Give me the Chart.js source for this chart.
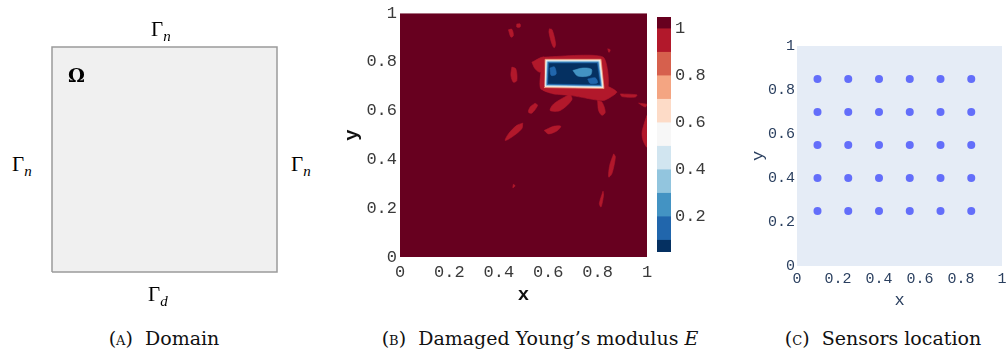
<!DOCTYPE html>
<html>
<head>
<meta charset="utf-8">
<script src="https://cdn.jsdelivr.net/npm/chart.js@4.4.1/dist/chart.umd.min.js"></script>
<style>
  body { margin: 0; width: 1006px; height: 358px; overflow: hidden; background: #fff; position: relative; font-family: "Liberation Serif", serif; }
  canvas { position: absolute; }
  .lbl { position: absolute; font-size: 21px; line-height: 1; white-space: nowrap; color: #000; }
  .lbl sub { font-size: 15px; font-style: italic; vertical-align: -5px; }
  .omega { position: absolute; font-size: 19px; font-weight: bold; font-family: "DejaVu Serif", serif; }
  .cap { position: absolute; top: 327px; font-size: 19px; font-family: "DejaVu Serif", serif; white-space: nowrap; transform: translateX(-50%); color: #111; }
  .sc { font-variant: small-caps; }
</style>
</head>
<body>
<canvas id="domain" width="233" height="233" style="left:48px;top:43px"></canvas>
<canvas id="modulus" width="320" height="310" style="left:340px;top:0"></canvas>
<canvas id="cbar" width="66" height="270" style="left:640px;top:0"></canvas>
<canvas id="sensors" width="280" height="290" style="left:740px;top:30px"></canvas>

<div class="lbl" style="left:151px;top:19px">Γ<sub>n</sub></div>
<div class="lbl" style="left:12px;top:154px">Γ<sub>n</sub></div>
<div class="lbl" style="left:291px;top:154px">Γ<sub>n</sub></div>
<div class="lbl" style="left:148px;top:284px">Γ<sub>d</sub></div>
<div class="omega" style="left:68px;top:64px">Ω</div>

<div class="cap" style="left:164px">(<span class="sc">a</span>)&nbsp; Domain</div>
<div class="cap" style="left:540px">(<span class="sc">b</span>)&nbsp; Damaged Young’s modulus <i>E</i></div>
<div class="cap" style="left:883px">(<span class="sc">c</span>)&nbsp; Sensors location</div>

<script>
// ticks
const ticks01 = [0, 0.2, 0.4, 0.6, 0.8, 1];
const cbarTicks = [0.2, 0.4, 0.6, 0.8, 1];

// colour bar levels (RdBu, 11 bands)
const cbarEdges = [0.05, 0.1, 0.2, 0.3, 0.4, 0.5, 0.6, 0.7, 0.8, 0.9, 1.0, 1.05];
const cbarColors = ["#053061", "#2166ac", "#4393c3", "#92c5de", "#d1e5f0", "#f7f7f7",
                    "#fddbc7", "#f4a582", "#d6604d", "#b2182b", "#67001f"];

// sensor grid
const sensorsX = [0.1, 0.25, 0.4, 0.55, 0.7, 0.85];
const sensorsY = [0.25, 0.4, 0.55, 0.7, 0.85];

// domain outline
const domainCorners = [[0, 0], [1, 0], [1, 1], [0, 1]];

// contour patches of E, outlines [x, y]
const field = [[0, 0], [1, 0], [1, 1], [0, 1]];
const rectHalo = [[0.579, 0.820], [0.822, 0.820], [0.836, 0.682], [0.573, 0.687]];
const rectPeach = [[0.587, 0.811], [0.814, 0.811], [0.826, 0.691], [0.583, 0.695]];
const rectWhite = [[0.591, 0.807], [0.810, 0.807], [0.822, 0.695], [0.587, 0.699]];
const rectLight = [[0.595, 0.803], [0.806, 0.803], [0.818, 0.699], [0.591, 0.703]];
const rectBlue = [[0.599, 0.799], [0.802, 0.799], [0.814, 0.703], [0.595, 0.707]];
const rectCore = [[0.604, 0.794], [0.797, 0.794], [0.809, 0.708], [0.600, 0.712]];
const coreBlob1 = [[0.70, 0.765], [0.74, 0.775], [0.775, 0.77], [0.77, 0.745], [0.72, 0.742]];
const coreBlob2 = [[0.607, 0.775], [0.625, 0.78], [0.632, 0.75], [0.612, 0.745]];
const coreBlob3 = [[0.76, 0.73], [0.79, 0.735], [0.80, 0.715], [0.77, 0.712]];

const patchTop = [[0.605, 0.936], [0.616, 0.932], [0.630, 0.874], [0.624, 0.858], [0.614, 0.877], [0.603, 0.922]];
const patchA = [[0.439, 0.932], [0.453, 0.934], [0.459, 0.908], [0.449, 0.902]];
const patchDot = [[0.473, 0.956], [0.486, 0.956], [0.486, 0.943], [0.473, 0.943]];
const patchLeft = [[0.453, 0.779], [0.469, 0.772], [0.473, 0.724], [0.459, 0.717], [0.449, 0.745]];
const patchNW = [[0.534, 0.799], [0.581, 0.820], [0.595, 0.792], [0.568, 0.758], [0.547, 0.772]];
const patchUnder = [[0.568, 0.705], [0.838, 0.700], [0.878, 0.676], [0.824, 0.642], [0.730, 0.656], [0.689, 0.663], [0.622, 0.669], [0.581, 0.683]];
const patchDiag = [[0.689, 0.669], [0.696, 0.645], [0.649, 0.601], [0.608, 0.601], [0.622, 0.628]];
const patchB = [[0.547, 0.631], [0.557, 0.622], [0.534, 0.590], [0.520, 0.594], [0.527, 0.615]];
const patchC = [[0.800, 0.642], [0.818, 0.635], [0.831, 0.594], [0.818, 0.581], [0.804, 0.601]];
const patchLong = [[0.497, 0.549], [0.493, 0.526], [0.453, 0.492], [0.426, 0.478], [0.439, 0.505], [0.473, 0.540]];
const patchMid = [[0.584, 0.519], [0.622, 0.536], [0.651, 0.536], [0.635, 0.517], [0.601, 0.505]];
const patchEdge = [[1.0, 0.581], [1.0, 0.451], [0.984, 0.478], [0.980, 0.512], [0.993, 0.561]];
const patchVert = [[0.865, 0.423], [0.872, 0.410], [0.858, 0.342], [0.845, 0.328], [0.849, 0.376]];
const patchLow = [[0.822, 0.270], [0.824, 0.253], [0.814, 0.205], [0.807, 0.219]];
const patchThin = [[0.892, 0.669], [0.959, 0.665], [0.953, 0.656], [0.899, 0.658]];
const patchD = [[0.966, 0.631], [1.0, 0.626], [0.993, 0.615]];
const patchE = [[0.841, 0.854], [0.851, 0.850], [0.846, 0.839]];
const patchF = [[0.459, 0.298], [0.466, 0.292], [0.457, 0.284]];

// bottom to top: [E value, outline, tension]
const layers = [
  [1.02, field, 0],
  [0.95, rectHalo, 0.2], [0.95, patchTop, 0.3], [0.95, patchA, 0.3], [0.95, patchDot, 0.4],
  [0.95, patchLeft, 0.3], [0.95, patchNW, 0.3], [0.95, patchUnder, 0.2], [0.95, patchDiag, 0.3],
  [0.95, patchB, 0.3], [0.95, patchC, 0.3], [0.95, patchLong, 0.3], [0.95, patchMid, 0.3],
  [0.95, patchEdge, 0.3], [0.95, patchVert, 0.3], [0.95, patchLow, 0.3], [0.95, patchThin, 0.3],
  [0.95, patchD, 0.3], [0.95, patchE, 0.3], [0.95, patchF, 0.3],
  [0.75, rectPeach, 0], [0.55, rectWhite, 0], [0.35, rectLight, 0], [0.15, rectBlue, 0],
  [0.07, rectCore, 0], [0.22, coreBlob1, 0.3], [0.15, coreBlob2, 0.3], [0.15, coreBlob3, 0.3]
];

function colorFor(e) {
  for (let i = 0; i < cbarColors.length; i++) {
    if (e < cbarEdges[i + 1]) return cbarColors[i];
  }
  return cbarColors[cbarColors.length - 1];
}
const fmt = v => String(Math.round(v * 10) / 10);
const toXY = pts => pts.concat([pts[0]]).map(p => ({ x: p[0], y: p[1] }));

Chart.defaults.animation = false;
Chart.defaults.events = [];
Chart.defaults.plugins.legend.display = false;
Chart.defaults.plugins.tooltip.enabled = false;
Chart.defaults.font.family = "'Liberation Mono', monospace";

const plotBg = {
  id: "plotBg",
  beforeDraw(chart, args, opts) {
    const { ctx, chartArea: a } = chart;
    ctx.save();
    ctx.fillStyle = opts.color;
    ctx.fillRect(a.left, a.top, a.width, a.height);
    ctx.restore();
  }
};

// (A) domain
new Chart(document.getElementById("domain"), {
  type: "scatter",
  data: {
    datasets: [{
      data: toXY(domainCorners),
      showLine: true, fill: "shape", tension: 0,
      backgroundColor: "#f0f0f0", borderColor: "#9a9a9a", borderWidth: 1.5,
      pointRadius: 0, clip: false
    }]
  },
  options: {
    responsive: false,
    layout: { padding: 4 },
    scales: {
      x: { display: false, min: 0, max: 1 },
      y: { display: false, min: 0, max: 1 }
    }
  }
});

// (B) damaged modulus
new Chart(document.getElementById("modulus"), {
  type: "scatter",
  data: {
    datasets: layers.map(([e, pts, t], i) => ({
      data: toXY(pts),
      showLine: true, fill: "shape", tension: t,
      backgroundColor: colorFor(e), borderColor: colorFor(e),
      borderWidth: i === 0 ? 0 : 0.6,
      pointRadius: 0, order: layers.length - i
    }))
  },
  options: {
    responsive: false,
    layout: { padding: { top: 13, right: 13, left: 0, bottom: 0 } },
    scales: {
      x: {
        min: 0, max: 1,
        afterBuildTicks: s => { s.ticks = ticks01.map(v => ({ value: v })); },
        afterFit: s => { s.height = 53; },
        grid: { display: false, drawTicks: false }, border: { display: false },
        ticks: { padding: 5, color: "#3a3a3a", font: { size: 17 }, callback: fmt, maxRotation: 0 },
        title: { display: true, text: "x", color: "#111", font: { size: 19, weight: "bold" }, padding: { top: 0, bottom: 3 } }
      },
      y: {
        min: 0, max: 1,
        afterBuildTicks: s => { s.ticks = ticks01.map(v => ({ value: v })); },
        afterFit: s => { s.width = 60; },
        grid: { display: false, drawTicks: false }, border: { display: false },
        ticks: { padding: 3, color: "#3a3a3a", font: { size: 17 }, callback: fmt },
        title: { display: true, text: "y", color: "#111", font: { size: 19, weight: "bold" }, padding: { top: 1, bottom: 0 } }
      }
    }
  }
});

// colour bar
new Chart(document.getElementById("cbar"), {
  type: "bar",
  data: {
    labels: [""],
    datasets: cbarColors.map((c, i) => ({
      data: [[cbarEdges[i], cbarEdges[i + 1]]],
      backgroundColor: c, borderWidth: 0,
      categoryPercentage: 1, barPercentage: 1
    }))
  },
  options: {
    responsive: false,
    layout: { padding: { top: 17, bottom: 18, left: 17, right: 0 } },
    scales: {
      x: { display: false, stacked: true },
      y: {
        position: "right", stacked: false, min: 0.05, max: 1.05,
        afterBuildTicks: s => { s.ticks = cbarTicks.map(v => ({ value: v })); },
        afterFit: s => { s.width = 35; },
        grid: { display: false, drawTicks: false }, border: { display: false },
        ticks: { padding: 4, color: "#3a3a3a", font: { size: 17 }, callback: fmt }
      }
    }
  }
});

// (C) sensors
new Chart(document.getElementById("sensors"), {
  type: "scatter",
  plugins: [plotBg],
  data: {
    datasets: [{
      data: sensorsY.flatMap(y => sensorsX.map(x => ({ x, y }))),
      backgroundColor: "#636efa", borderWidth: 0, pointRadius: 4
    }]
  },
  options: {
    responsive: false,
    layout: { padding: { top: 16, right: 18, left: 0, bottom: 0 } },
    plugins: { plotBg: { color: "#e5ecf6" } },
    scales: {
      x: {
        min: 0, max: 1,
        afterBuildTicks: s => { s.ticks = ticks01.map(v => ({ value: v })); },
        afterFit: s => { s.height = 54; },
        grid: { display: false, drawTicks: false }, border: { display: false },
        ticks: { padding: 4, color: "#2a3f5f", font: { size: 15 }, callback: fmt, maxRotation: 0 },
        title: { display: true, text: "x", color: "#2a3f5f", font: { size: 17 }, padding: { top: 0, bottom: 9 } }
      },
      y: {
        min: 0, max: 1,
        afterBuildTicks: s => { s.ticks = ticks01.map(v => ({ value: v })); },
        afterFit: s => { s.width = 57; },
        grid: { display: false, drawTicks: false }, border: { display: false },
        ticks: { padding: 2, color: "#2a3f5f", font: { size: 15 }, callback: fmt },
        title: { display: true, text: "y", color: "#2a3f5f", font: { size: 17 }, padding: { top: 8, bottom: 0 } }
      }
    }
  }
});
</script>
</body>
</html>
